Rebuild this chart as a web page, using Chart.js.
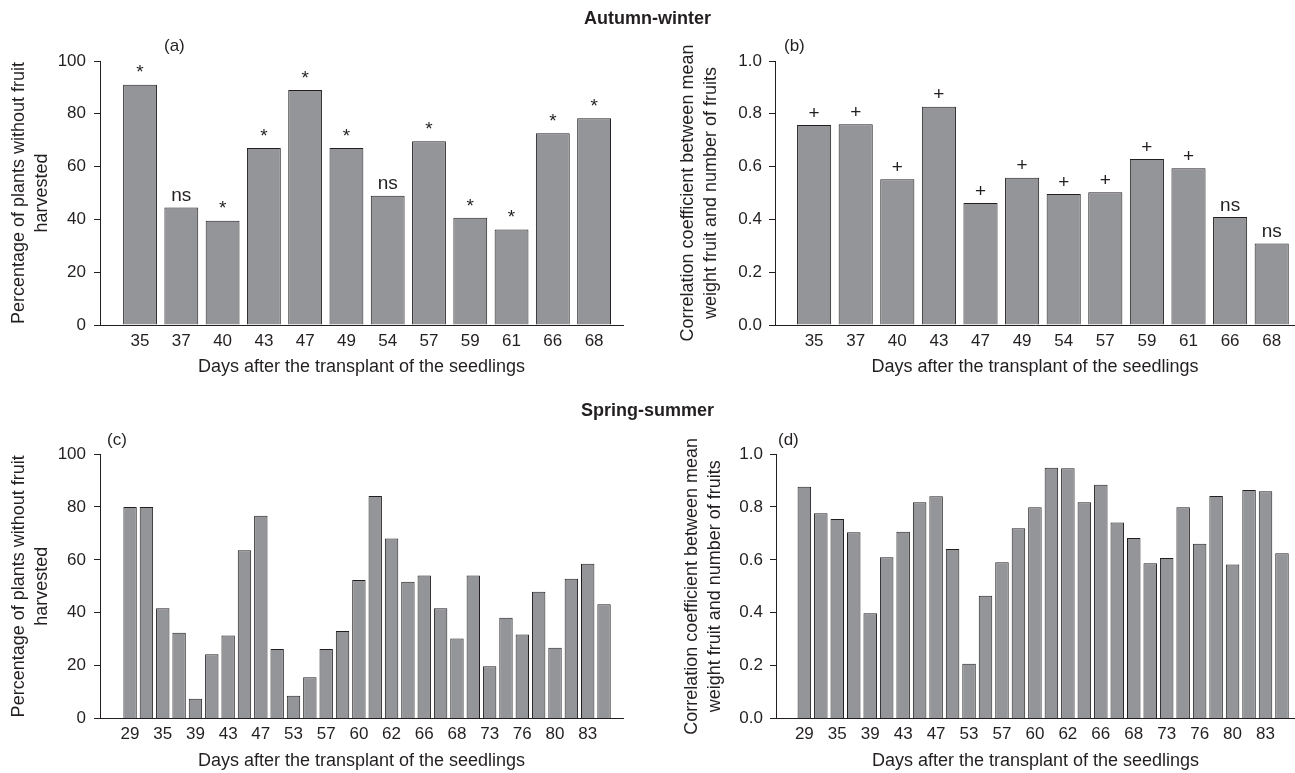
<!DOCTYPE html>
<html>
<head>
<meta charset="utf-8">
<script src="https://cdn.jsdelivr.net/npm/chart.js@4.4.1/dist/chart.umd.min.js"></script>
<style>
  body { margin: 0; background: #fff; }
  #page { position: relative; width: 1295px; height: 773px; overflow: hidden; color: #231f20;
          font-family: 'Liberation Sans', Arial, sans-serif; }
  canvas { position: absolute; }
  .season { position: absolute; left: 0; width: 1295px; text-align: center; font-weight: bold; font-size: 18px; }
  .tag { position: absolute; font-size: 17px; }
</style>
</head>
<body>
<div id="page">
  <canvas id="chartA" width="640" height="386" style="left:0;top:0"></canvas>
  <canvas id="chartB" width="645" height="386" style="left:650px;top:0"></canvas>
  <canvas id="chartC" width="640" height="383" style="left:0;top:390px"></canvas>
  <canvas id="chartD" width="645" height="383" style="left:650px;top:390px"></canvas>
  <div class="season" style="top:8px">Autumn-winter</div>
  <div class="season" style="top:400px">Spring-summer</div>
  <div class="tag" style="left:164px;top:36px">(a)</div>
  <div class="tag" style="left:784px;top:36px">(b)</div>
  <div class="tag" style="left:107px;top:430px">(c)</div>
  <div class="tag" style="left:778px;top:430px">(d)</div>
</div>
<script>
// autumn-winter
const daysAW = ['35', '37', '40', '43', '47', '49', '54', '57', '59', '61', '66', '68']
const noFruitAW = [91, 44.5, 39.5, 67, 89, 67, 49, 69.6, 40.6, 36.2, 72.6, 78.3]
const sigNoFruitAW = ['*', 'ns', '*', '*', '*', '*', 'ns', '*', '*', '*', '*', '*']
const corrAW = [0.758, 0.76, 0.552, 0.827, 0.462, 0.558, 0.496, 0.503, 0.629, 0.594, 0.409, 0.309]
const sigCorrAW = ['+', '+', '+', '+', '+', '+', '+', '+', '+', '+', 'ns', 'ns']

// spring-summer (only every other day is labelled on the axis)
const daysSS = ['29', '', '35', '', '39', '', '43', '', '47', '', '53', '', '57', '', '60', '',
                '62', '', '66', '', '68', '', '73', '', '76', '', '80', '', '83', '']
const noFruitSS = [80, 80, 41.7, 32.4, 7.5, 24.3, 31.4, 63.6, 76.7, 26.3, 8.6, 15.6, 26.3, 33.1, 52.4,
                   84.1, 68.1, 51.7, 54.1, 41.7, 30.3, 54.1, 19.8, 38.1, 31.8, 47.9, 26.8, 52.9, 58.5, 43.2]
const corrSS = [0.876, 0.776, 0.754, 0.704, 0.398, 0.61, 0.706, 0.818, 0.84, 0.641, 0.207, 0.464, 0.591, 0.719, 0.799,
                0.948, 0.946, 0.818, 0.884, 0.741, 0.683, 0.587, 0.607, 0.799, 0.661, 0.841, 0.582, 0.864, 0.859, 0.625]

const pctTicks = [0, 20, 40, 60, 80, 100]
const corrTicks = [0, 0.2, 0.4, 0.6, 0.8, 1.0]

const xTitle = 'Days after the transplant of the seedlings'
const pctTitle = ['Percentage of plants without fruit', 'harvested']
const corrTitle = ['Correlation coefficient between mean', 'weight fruit and number of fruits']

const ink = '#231f20'
const barFill = '#939598'
const sans = "'Liberation Sans', Arial, sans-serif"
const tickFont = { family: sans, size: 17, lineHeight: 1.2 }
const titleFont = { family: sans, size: 18, lineHeight: 1.3 }

// writes the significance marks above the bars
const sigLabels = {
  id: 'sigLabels',
  afterDatasetsDraw(chart, args, opts) {
    if (!opts.marks) return
    const ctx = chart.ctx
    const bars = chart.getDatasetMeta(0).data
    ctx.save()
    ctx.font = '19px ' + sans
    ctx.fillStyle = ink
    ctx.textAlign = 'center'
    ctx.textBaseline = 'bottom'
    bars.forEach((b, i) => ctx.fillText(opts.marks[i], b.x, b.y - 2))
    ctx.restore()
  }
}

function drawPanel(id, p) {
  new Chart(document.getElementById(id), {
    type: 'bar',
    data: {
      datasets: [{
        data: p.values.map((v, i) => ({ x: i, y: v })),
        backgroundColor: barFill,
        borderColor: ink,
        borderWidth: 1,
        barPercentage: 0.82,
        categoryPercentage: 1
      }]
    },
    options: {
      responsive: false,
      animation: false,
      layout: { padding: { top: p.top, right: p.right, left: 0, bottom: 0 } },
      plugins: {
        legend: { display: false },
        tooltip: { enabled: false },
        sigLabels: { marks: p.marks }
      },
      scales: {
        x: {
          type: 'linear',
          offset: false,
          min: p.xMin,
          max: p.xMax,
          afterBuildTicks: s => { s.ticks = p.days.map((d, i) => ({ value: i })) },
          afterFit: s => { s.height = p.xHeight },
          grid: { display: false, drawTicks: false },
          border: { color: ink, width: 1 },
          ticks: { autoSkip: false, maxRotation: 0, padding: 6, font: tickFont, color: ink,
                   callback: v => p.days[v] },
          title: { display: true, text: xTitle, font: titleFont, color: ink,
                   padding: { top: 0, bottom: p.xTitlePad } }
        },
        y: {
          min: 0,
          max: p.yTicks[p.yTicks.length - 1],
          afterBuildTicks: s => { s.ticks = p.yTicks.map(v => ({ value: v })) },
          afterFit: s => { s.width = p.yWidth },
          grid: { drawOnChartArea: false, tickLength: 6, color: ink },
          border: { color: ink, width: 1 },
          ticks: { padding: p.yPad, font: tickFont, color: ink, callback: v => v.toFixed(p.dec) },
          title: { display: true, text: p.yTitle, font: titleFont, color: ink,
                   padding: { top: p.yTitlePad, bottom: 0 } }
        }
      }
    },
    plugins: [sigLabels]
  })
}

drawPanel('chartA', { values: noFruitAW, marks: sigNoFruitAW, days: daysAW, yTicks: pctTicks, dec: 0,
  yTitle: pctTitle, top: 61, right: 17, xMin: -0.97, xMax: 11.7, xHeight: 61, xTitlePad: 7,
  yWidth: 100, yPad: 8, yTitlePad: 7 })
drawPanel('chartB', { values: corrAW, marks: sigCorrAW, days: daysAW, yTicks: corrTicks, dec: 1,
  yTitle: corrTitle, top: 61, right: 0, xMin: -0.94, xMax: 11.56, xHeight: 61, xTitlePad: 7,
  yWidth: 125, yPad: 7, yTitlePad: 26 })
drawPanel('chartC', { values: noFruitSS, days: daysSS, yTicks: pctTicks, dec: 0,
  yTitle: pctTitle, top: 64, right: 17, xMin: -1.84, xMax: 30.16, xHeight: 54.4, xTitlePad: 0,
  yWidth: 100, yPad: 8, yTitlePad: 7 })
drawPanel('chartD', { values: corrSS, days: daysSS, yTicks: corrTicks, dec: 1,
  yTitle: corrTitle, top: 64, right: 0, xMin: -1.72, xMax: 29.79, xHeight: 54.4, xTitlePad: 0,
  yWidth: 126, yPad: 7, yTitlePad: 30 })
</script>
</body>
</html>
